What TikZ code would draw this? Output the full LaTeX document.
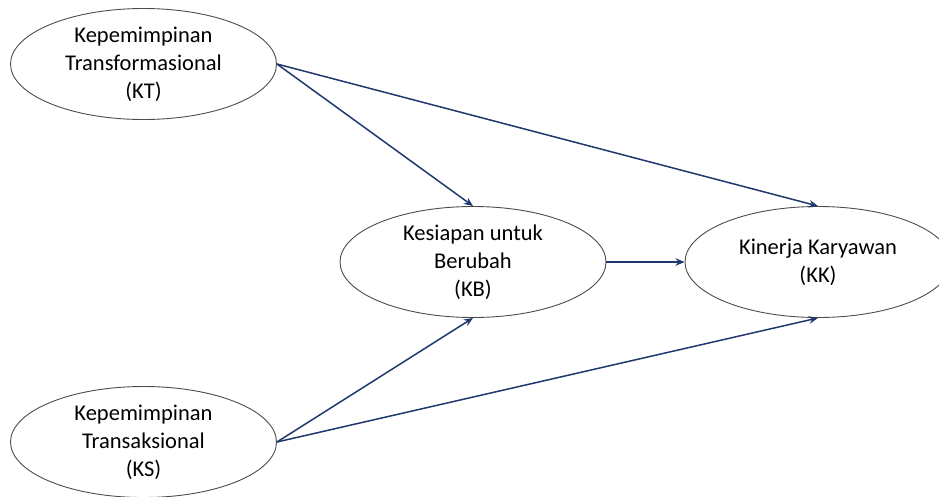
\documentclass[tikz,border=0pt]{standalone}
\usepackage{fontspec}
\setmainfont{Carlito}
\usetikzlibrary{shapes.geometric,arrows.meta}
\definecolor{linkblue}{RGB}{31,56,110}

\begin{document}
\begin{tikzpicture}[x=1pt,y=-1pt,
    var/.style={ellipse,draw=black!70,line width=0.9pt,minimum width=266pt,
      minimum height=111pt,inner sep=0pt,align=center,
      font=\fontsize{22.5}{28}\selectfont},
    link/.style={-{Stealth[length=9pt,width=7.5pt]},draw=linkblue,line width=1.5pt}]
      \useasboundingbox (0,0) rectangle (939,496);
      \clip (0,0) rectangle (939,496);
      \node[var] (KT) at (143.5,64) {Kepemimpinan\\Transformasional\\(KT)};
      \node[var] (KB) at (473,262) {Kesiapan untuk\\Berubah\\(KB)};
      \node[var] (KK) at (818,262) {Kinerja Karyawan\\(KK)};
      \node[var] (KS) at (143.5,442) {Kepemimpinan\\Transaksional\\(KS)};

      \draw[link] (KT.east) to (KB.north);
      \draw[link] (KT.east) to (KK.north);
      \draw[link] (KB.east) to (KK.west);
      \draw[link] (KS.east) to (KB.south);
      \draw[link] (KS.east) to (KK.south);
    \end{tikzpicture}
\end{document}
